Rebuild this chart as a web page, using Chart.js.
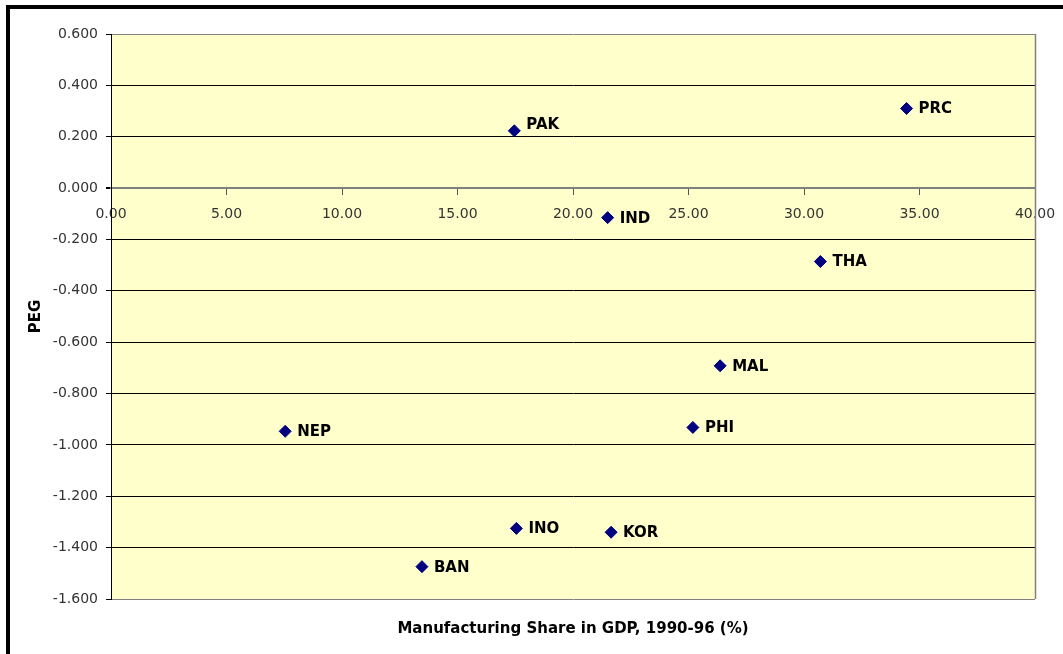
<!DOCTYPE html>
<html><head><meta charset="utf-8">
<script src="https://cdn.jsdelivr.net/npm/chart.js@4/dist/chart.umd.min.js"></script>
<style>html,body{margin:0;padding:0;background:#fff;overflow:hidden}canvas{display:block}</style>
</head><body>
<canvas id="c" width="1063" height="654"></canvas>
<script>
// ---- data ----
const countries = ['PAK', 'PRC', 'IND', 'THA', 'MAL', 'PHI', 'NEP', 'INO', 'KOR', 'BAN'];
const mfgShare  = [17.46, 34.44, 21.50, 30.71, 26.37, 25.19, 7.54, 17.55, 21.65, 13.46];
const peg       = [0.223, 0.310, -0.115, -0.286, -0.692, -0.932, -0.947, -1.325, -1.340, -1.474];
const xMin = 0, xMax = 40, xStep = 5;
const yMin = -1.6, yMax = 0.6, yStep = 0.2;
const xTitle = 'Manufacturing Share in GDP, 1990-96 (%)';
const yTitle = 'PEG';

// ---- style ----
const FONT = 'DejaVu Sans';
const labelNudge = { PAK: -7 };

const points = mfgShare.map((x, i) => ({ x: x, y: peg[i] }));

const framePlugin = {
  id: 'frame',
  beforeDraw(chart) {
    const { ctx, chartArea: a } = chart;
    ctx.save();
    ctx.fillStyle = '#ffffff';
    ctx.fillRect(0, 0, chart.width, chart.height);
    ctx.fillStyle = '#FFFFCC';
    ctx.fillRect(a.left, a.top, a.right - a.left, a.bottom - a.top);
    ctx.restore();
  },
  beforeDatasetsDraw(chart) {
    const { ctx, chartArea: a } = chart;
    ctx.save();
    ctx.strokeStyle = '#808080';
    ctx.lineWidth = 1.5;
    ctx.beginPath();
    ctx.moveTo(a.right + 0.5, a.top);
    ctx.lineTo(a.right + 0.5, a.bottom);
    ctx.stroke();
    ctx.restore();
  },
  afterDatasetsDraw(chart) {
    const { ctx } = chart;
    const meta = chart.getDatasetMeta(0);
    ctx.save();
    ctx.font = 'bold 15px "' + FONT + '"';
    ctx.fillStyle = '#000';
    ctx.textAlign = 'left';
    ctx.textBaseline = 'middle';
    meta.data.forEach((el, i) => {
      const name = countries[i];
      ctx.fillText(name, el.x + 12, el.y + 1 + (labelNudge[name] || 0));
    });
    ctx.restore();
  },
  afterDraw(chart) {
    const { ctx } = chart;
    ctx.save();
    ctx.strokeStyle = '#000';
    ctx.lineWidth = 4;
    ctx.strokeRect(8, 7, chart.width + 20, chart.height + 20);
    ctx.restore();
  }
};

const near = (a, b) => Math.abs(a - b) < 1e-6;

new Chart(document.getElementById('c'), {
  type: 'scatter',
  data: {
    datasets: [{
      data: points,
      pointStyle: 'rectRot',
      pointRadius: 6,
      pointHoverRadius: 6,
      backgroundColor: '#000080',
      borderColor: '#000080',
      borderWidth: 1
    }]
  },
  options: {
    responsive: false,
    devicePixelRatio: 1,
    animation: false,
    layout: { padding: { left: 10, top: 34, right: 28, bottom: 12 } },
    plugins: { legend: { display: false }, tooltip: { enabled: false } },
    scales: {
      x: {
        type: 'linear',
        position: { y: 0 },
        min: xMin, max: xMax,
        ticks: {
          stepSize: xStep,
          padding: 12,
          color: '#333',
          font: { family: FONT, size: 14 },
          maxRotation: 0,
          callback: v => Number(v).toFixed(2)
        },
        grid: { display: true, drawOnChartArea: false, drawTicks: true, tickLength: 6, color: '#555' },
        border: { display: true, color: '#808080', width: 2 },
        afterFit: s => { s.height = 0; s.paddingRight = 0; s.paddingLeft = 0; }
      },
      x2: {
        type: 'linear',
        position: 'bottom',
        min: xMin, max: xMax,
        ticks: { display: false },
        grid: { display: false, drawTicks: false, tickLength: 0 },
        border: { display: false },
        title: {
          display: true,
          text: xTitle,
          color: '#000',
          font: { family: FONT, size: 15, weight: 'bold' },
          padding: { top: 21, bottom: 4 }
        }
      },
      y: {
        type: 'linear',
        position: 'left',
        min: yMin, max: yMax,
        ticks: {
          stepSize: yStep,
          padding: 8,
          color: '#333',
          font: { family: FONT, size: 14 },
          callback: v => Number(v).toFixed(3)
        },
        grid: {
          color: c => {
            const v = c.tick ? c.tick.value : null;
            if (v !== null && (near(v, yMax) || near(v, yMin) || near(v, 0))) return '#808080';
            return '#000';
          },
          lineWidth: c => {
            const v = c.tick ? c.tick.value : null;
            return (v !== null && near(v, 0)) ? 2 : 1;
          },
          tickColor: '#000',
          tickLength: 5
        },
        border: { display: true, color: '#000', width: 1 },
        title: {
          display: true,
          text: yTitle,
          color: '#000',
          font: { family: FONT, size: 15, weight: 'bold' },
          padding: { top: 17, bottom: 0 }
        },
        afterFit: s => { s.width = 101; }
      }
    }
  },
  plugins: [framePlugin]
});
</script>
</body></html>
